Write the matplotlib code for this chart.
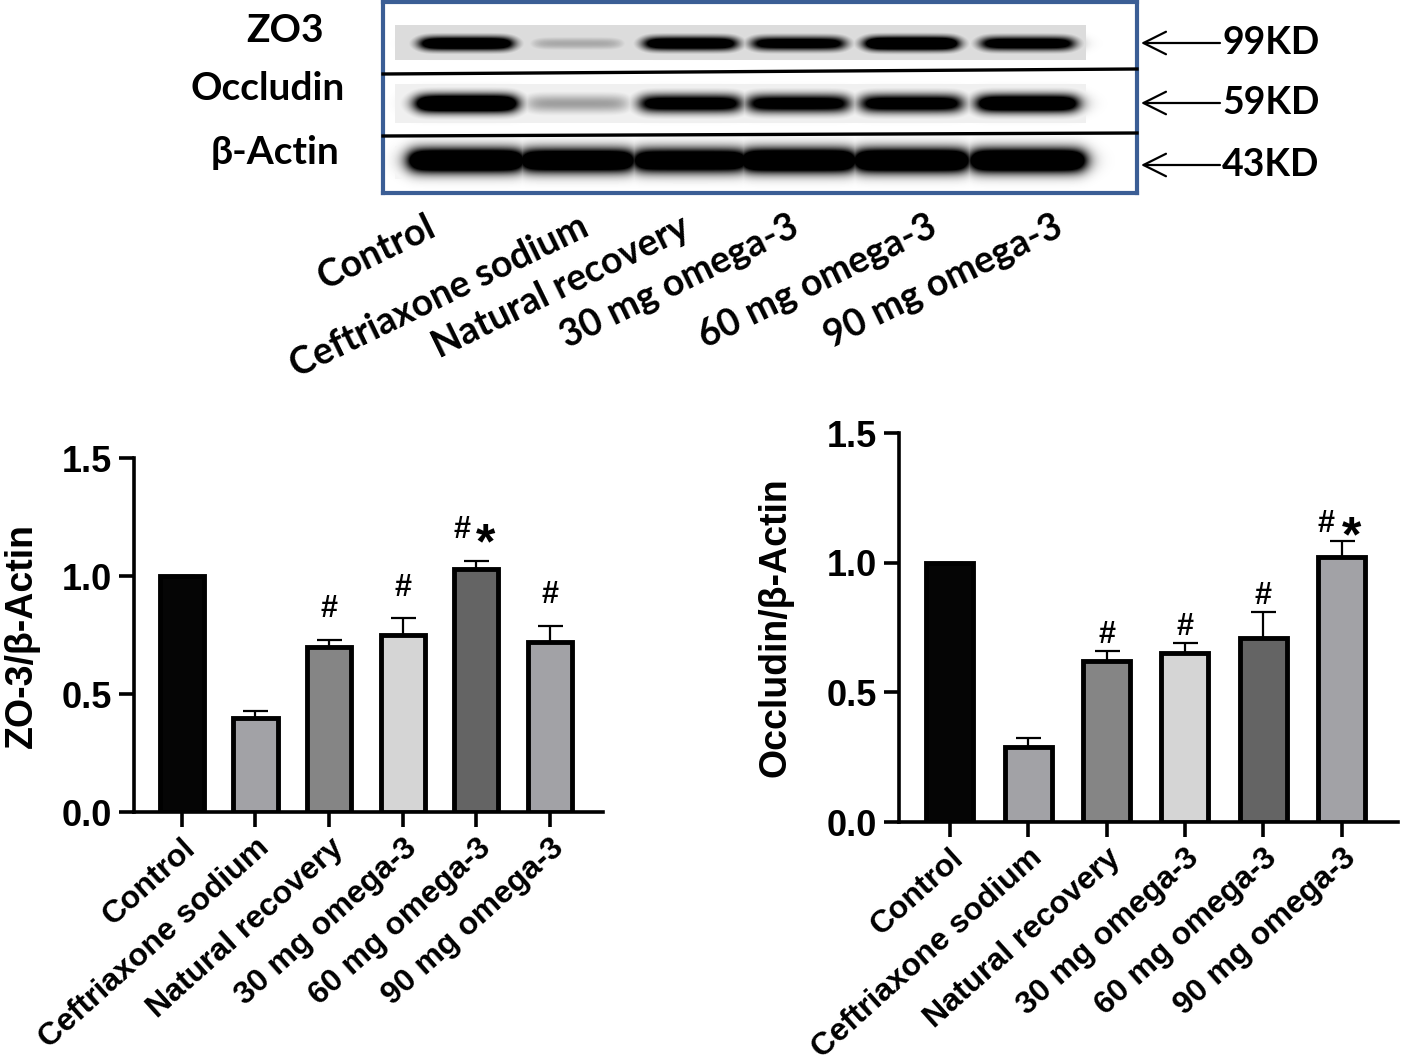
import numpy as np
import matplotlib
matplotlib.use("Agg")
import matplotlib.pyplot as plt

plt.rcParams['font.family'] = ['Liberation Sans', 'DejaVu Sans']
plt.rcParams['font.weight'] = 'bold'

W, H = 1419, 1064

groups = ["Control", "Ceftriaxone sodium", "Natural recovery",
          "30 mg omega-3", "60 mg omega-3", "90 mg omega-3"]
bar_colors = ['#050505', '#a2a2a6', '#858585', '#d5d5d5', '#646464', '#a2a2a6']

# densitometry
zo3_mean = [1.00, 0.40, 0.70, 0.75, 1.03, 0.72]
zo3_err = [0.00, 0.03, 0.03, 0.07, 0.035, 0.07]
zo3_marks = ['', '', '#', '#', '#*', '#']

occ_mean = [1.00, 0.29, 0.62, 0.65, 0.71, 1.02]
occ_err = [0.00, 0.035, 0.04, 0.04, 0.10, 0.065]
occ_marks = ['', '', '#', '#', '#', '#*']

# band strength on the blot (0 = none, 1 = saturated)
blot_proteins = ["ZO3", "Occludin", "β-Actin"]
blot_sizes = ["99KD", "59KD", "43KD"]
zo3_band = [0.85, 0.18, 0.80, 0.72, 0.95, 0.75]
occ_band = [0.95, 0.20, 0.72, 0.70, 0.72, 0.85]
actin_band = [1.00, 0.92, 0.88, 1.00, 1.00, 1.00]


def px_box(left, top, right, bottom):
    return [left / W, 1 - bottom / H, (right - left) / W, (bottom - top) / H]


fig = plt.figure(figsize=(W / 100, H / 100), dpi=100)

# ---- western blot -------------------------------------------------------
bx0, by0, bx1, by1 = 383, 2, 1137, 193
blot_ax = fig.add_axes(px_box(bx0, by0, bx1, by1))
lane_x = np.array([466, 577, 690, 798, 911, 1027]) - bx0
xs = np.arange(bx1 - bx0)[None, :]
ys = np.arange(by1 - by0)[:, None] + by0

# (y centre, y sigma, half width, strip top, strip bottom, strip darkness)
strips = [(43, 5.0, 46, 25, 59, 0.14),
          (103, 6.5, 50, 84, 122, 0.06),
          (160, 8.5, 57, 146, 178, 0.04)]
dark = np.zeros((by1 - by0, bx1 - bx0))
for bands, (yc, sy, hw, st, sb, bg) in zip([zo3_band, occ_band, actin_band], strips):
    in_strip = (ys >= st) & (ys <= sb) & (xs >= 12) & (xs <= 702)
    dark = np.maximum(dark, bg * in_strip)
    gy = np.exp(-0.5 * ((ys - yc) / sy) ** 2)
    for cx, val in zip(lane_x, bands):
        gx = 1 / (1 + np.exp((np.abs(xs - cx) - hw) / 5.0))
        dark = np.maximum(dark, np.clip(1.9 * val * gy * gx, 0, 1))

blot_ax.imshow(1 - dark, cmap='gray', vmin=0, vmax=1, aspect='auto',
               interpolation='bilinear')
blot_ax.set_xticks([])
blot_ax.set_yticks([])
for sp in blot_ax.spines.values():
    sp.set_color('#3b5e95')
    sp.set_linewidth(3)

# ---- bar panels ---------------------------------------------------------
def bar_panel(rect, means, errs, marks, ylabel, mark_pad):
    ax = fig.add_axes(rect)
    x = np.arange(len(means))
    ax.errorbar(x, means, yerr=errs, fmt='none', ecolor='black',
                elinewidth=1.6, capsize=9, capthick=1.6, zorder=2)
    ax.bar(x, means, width=0.6, color=bar_colors, edgecolor='black',
           linewidth=3.5, zorder=3)
    for xi, m, e, mk in zip(x, means, errs, marks):
        top = m + e
        if mk == '#':
            ax.annotate('#', xy=(xi, top), xytext=(0, mark_pad),
                        textcoords='offset points', ha='center', va='baseline',
                        fontsize=22, fontweight='bold')
        elif mk == '#*':
            ax.annotate('#', xy=(xi - 0.2, top), xytext=(0, mark_pad),
                        textcoords='offset points', ha='center', va='baseline',
                        fontsize=22, fontweight='bold')
            ax.annotate('*', xy=(xi + 0.13, top), xytext=(0, mark_pad - 14),
                        textcoords='offset points', ha='center', va='baseline',
                        fontsize=36)
    ax.set_xlim(-0.65, 5.72)
    ax.set_ylim(0, 1.5)
    ax.set_yticks([0, 0.5, 1.0, 1.5])
    ax.set_yticklabels(['0.0', '0.5', '1.0', '1.5'])
    ax.set_xticks(x)
    ax.set_xticklabels(groups, rotation=42, ha='right', rotation_mode='anchor')
    for sp in ['top', 'right']:
        ax.spines[sp].set_visible(False)
    for sp in ['left', 'bottom']:
        ax.spines[sp].set_linewidth(2.6)
    ax.tick_params(axis='both', width=2.6, length=11, pad=5)
    ax.tick_params(axis='y', labelsize=26)
    ax.tick_params(axis='x', labelsize=23, pad=4)
    ax.set_ylabel(ylabel, fontsize=27, fontweight='bold')
    ax.patch.set_alpha(0)
    return ax


ax1 = bar_panel(px_box(134, 458, 603, 812), zo3_mean, zo3_err, zo3_marks,
                'ZO-3/β-Actin', 16)
ax1.yaxis.set_label_coords(-0.2, 0.5)
ax2 = bar_panel(px_box(899, 433, 1398, 822), occ_mean, occ_err, occ_marks,
                'Occludin/β-Actin', 6)
ax2.yaxis.set_label_coords(-0.212, 0.5)

# ---- blot annotations (pixel overlay) ------------------------------------
ov = fig.add_axes([0, 0, 1, 1], zorder=5)
ov.set_xlim(0, W)
ov.set_ylim(H, 0)
ov.axis('off')
ov.patch.set_alpha(0)

blot_font = ['Lato', 'DejaVu Sans']
ov.plot([bx0, bx1], [74, 69], color='black', lw=2.4)
ov.plot([bx0, bx1], [136, 133], color='black', lw=2.4)

for name, xy in zip(blot_proteins, [(285, 30), (268, 88), (275, 152)]):
    ov.text(*xy, name, family=blot_font, fontsize=28, fontweight='bold',
            ha='center', va='center')
for size, yy in zip(blot_sizes, [43, 103, 165]):
    ov.annotate('', xy=(1141, yy), xytext=(1220, yy),
                arrowprops=dict(arrowstyle='->,head_length=0.9,head_width=0.45',
                                lw=1.6, color='black', mutation_scale=18,
                                shrinkA=0, shrinkB=0))
    ov.text(1222, yy, size, family=blot_font, fontsize=27, fontweight='bold',
            ha='left', va='center')

label_ends = [433, 586, 687, 796, 934, 1060]
for name, xe in zip(groups, label_ends):
    ov.text(xe, 225, name, family=blot_font, fontsize=27, fontweight='bold',
            rotation=26, ha='right', va='center', rotation_mode='anchor')

fig.savefig('out.png', dpi=100)
